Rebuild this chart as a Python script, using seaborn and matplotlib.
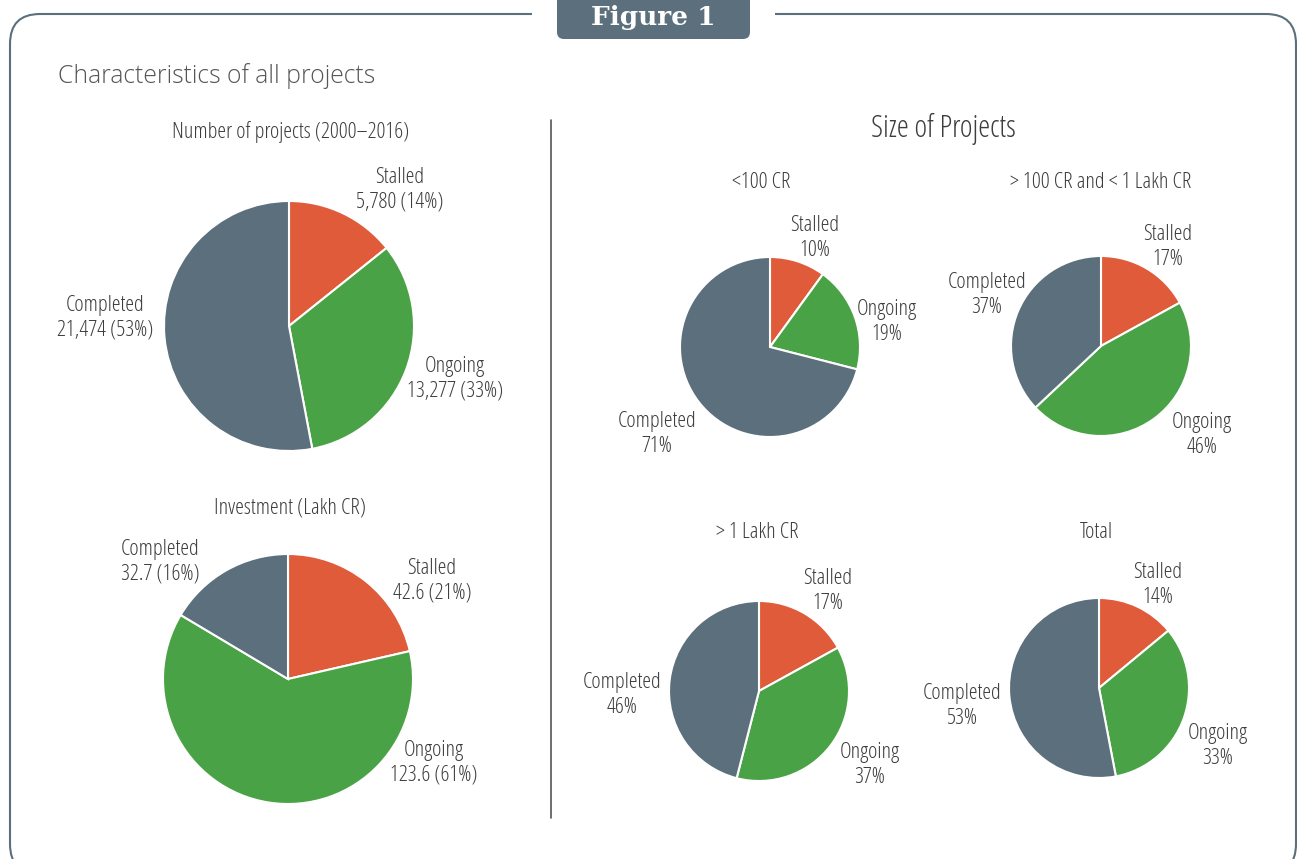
import matplotlib
matplotlib.use("Agg")
import matplotlib.pyplot as plt
from matplotlib.patches import FancyBboxPatch, Rectangle
from matplotlib.transforms import IdentityTransform
import seaborn as sns

# ---- data ----
categories = ["Stalled", "Ongoing", "Completed"]

num_projects = [5780, 13277, 21474]
num_projects_pct = [14, 33, 53]

investment = [42.6, 123.6, 32.7]
investment_pct = [21, 61, 16]

size_titles = ["<100 CR", "> 100 CR and < 1 Lakh CR", "> 1 Lakh CR", "Total"]
size_lt100 = [10, 19, 71]
size_mid = [17, 46, 37]
size_gt1lakh = [17, 37, 46]
size_total = [14, 33, 53]

# ---- style ----
sns.set_theme(style="white")
plt.rcParams["font.family"] = ["Open Sans", "DejaVu Sans"]
plt.rcParams["font.stretch"] = "condensed"
plt.rcParams["font.weight"] = "light"
palette = sns.color_palette(["#E05B3A", "#4AA246", "#5B6F7C"])
SLATE = "#5B6F7C"
TEXT = "#3d3d3d"
FS = 16
DY = 2  # small nudge: matplotlib centres on the full glyph box

W, H = 1297, 859
fig = plt.figure(figsize=(W / 100, H / 100), dpi=100)
ax = fig.add_axes([0, 0, 1, 1])


def draw_pie(values, center, radius, labels, offsets):
    # y axis is inverted (pixel coords), so counterclock + -90 reads clockwise from top
    ax.pie(values, colors=palette, startangle=-90, counterclock=True,
           center=center, radius=radius,
           wedgeprops=dict(edgecolor="white", linewidth=1.5))
    for lab, (dx, dy) in zip(labels, offsets):
        ax.text(center[0] + dx, center[1] + dy + DY, lab, ha="center", va="center",
                fontsize=FS, color=TEXT, linespacing=1.2, multialignment="center")


def title(x, y, s, size=FS):
    ax.text(x, y + DY, s, ha="center", va="center", fontsize=size, color=TEXT)


# left column
lab1 = [f"{c}\n{v:,} ({p}%)" for c, v, p in zip(categories, num_projects, num_projects_pct)]
draw_pie(num_projects, (289, 326), 125, lab1, [(111, -138), (166, 51), (-184, -10)])
title(291, 130, "Number of projects (2000\u20132016)")

lab2 = [f"{c}\n{v} ({p}%)" for c, v, p in zip(categories, investment, investment_pct)]
draw_pie(investment, (288, 679), 125, lab2, [(144, -100), (146, 82), (-128, -119)])
title(290, 506, "Investment (Lakh CR)")

# right block
size_sets = [size_lt100, size_mid, size_gt1lakh, size_total]
centers = [(770, 347), (1101, 346), (759, 691), (1099, 688)]
title_pos = [(761, 180), (1101, 180), (757, 530), (1096, 530)]
offsets = [
    [(45, -111), (117, -27), (-113, 85)],
    [(67, -101), (101, 87), (-114, -53)],
    [(69, -102), (111, 72), (-137, 2)],
    [(59, -105), (119, 56), (-137, 16)],
]
for vals, c, t, tp, offs in zip(size_sets, centers, size_titles, title_pos, offsets):
    labs = [f"{cat}\n{v}%" for cat, v in zip(categories, vals)]
    draw_pie(vals, c, 90, labs, offs)
    title(tp[0], tp[1], t)

title(943, 127, "Size of Projects", size=22)

# subtitle
ax.text(58, 76, "Characteristics of all projects", ha="left", va="center",
        fontsize=17.8, color="#555555", fontfamily="Open Sans",
        fontstretch="normal", fontweight="light")

# divider
ax.plot([551, 551], [120, 818], color="#555555", lw=1.2)

# frame with tab (drawn in display pixels, origin bottom-left)
frame = FancyBboxPatch((10, H - 874), 1286, 860, boxstyle="round,pad=0,rounding_size=30",
                       fill=False, edgecolor=SLATE, lw=1.5, zorder=5,
                       transform=IdentityTransform())
fig.add_artist(frame)
fig.add_artist(Rectangle((532, H - 23), 243, 18, facecolor="white", edgecolor="none",
                         zorder=6, transform=IdentityTransform()))
tab = FancyBboxPatch((557, H - 39), 193, 60, boxstyle="round,pad=0,rounding_size=7",
                     facecolor=SLATE, edgecolor="none", zorder=7,
                     transform=IdentityTransform())
fig.add_artist(tab)
fig.text(653.5 / W, 1 - 17 / H, "Figure 1", ha="center", va="center", fontsize=19,
         fontweight="bold", fontstretch="normal", color="white",
         fontfamily=["DejaVu Serif"], zorder=8)

ax.set_xlim(0, W)
ax.set_ylim(H, 0)
ax.set_aspect("equal")
ax.axis("off")

fig.savefig("out.png", dpi=100, facecolor="white")
